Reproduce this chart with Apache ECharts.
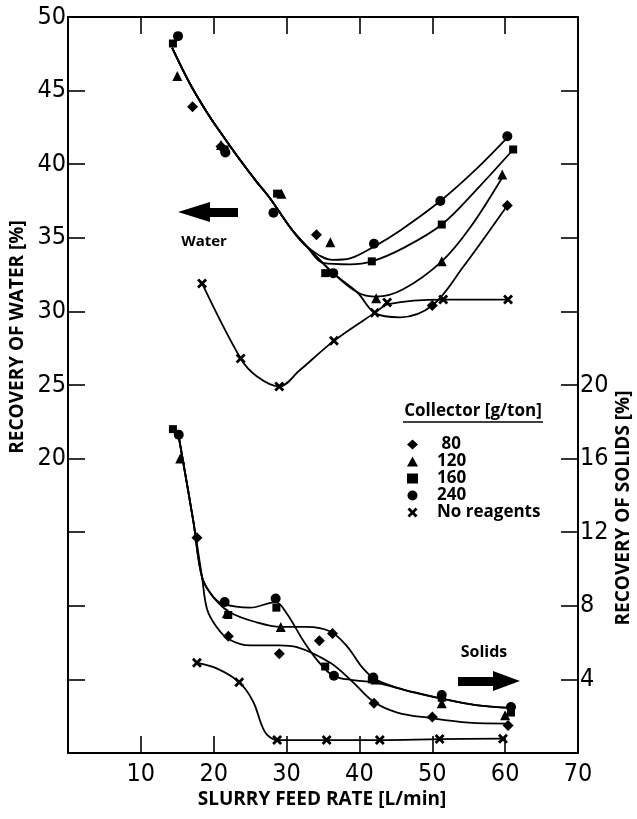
<!DOCTYPE html>
<html><head><meta charset="utf-8">
<script src="https://cdn.jsdelivr.net/npm/echarts@6/dist/echarts.min.js"></script>
<style>html,body{margin:0;padding:0;background:#fff}#c{width:637px;height:819px}</style>
</head><body><div id="c"></div>
<script>
// ---------- tick labels ----------
const xTickLabels = [10, 20, 30, 40, 50, 60, 70];
const waterTickLabels = [20, 25, 30, 35, 40, 45, 50];
const solidsTickLabels = [4, 8, 12, 16, 20];
const collectorNames = [' 80', '120', '160', '240', 'No reagents'];

// ---------- recovery of water [%] : measured points ----------
const water80  = [[17.1,43.9],[21.0,41.2],[34.1,35.2],[50.0,30.4],[60.3,37.2]];
const water120 = [[15.0,46.0],[21.0,41.3],[29.3,38.0],[36.0,34.7],[42.3,30.9],[51.3,33.4],[59.6,39.3]];
const water160 = [[14.4,48.2],[21.5,41.0],[28.7,38.0],[35.3,32.6],[41.7,33.4],[51.3,35.9],[61.1,41.0]];
const water240 = [[15.1,48.7],[21.6,40.8],[28.2,36.7],[36.4,32.6],[42.0,34.6],[51.1,37.5],[60.3,41.9]];
const waterNone = [[18.4,31.9],[23.7,26.8],[29.0,24.9],[36.5,28.0],[42.1,29.9],[43.8,30.6],[51.5,30.8],[60.4,30.8]];

// ---------- recovery of water : fitted curves ----------
const waterFitShared = [[14.3,47.9],[16.7,45.5],[19.1,43.5],[21.3,41.9],[23.6,40.3],[25.9,38.8],[27.7,37.7],[30.5,35.7],[32.8,34.4]];
const waterFitLow    = [[36.4,32.6],[39.7,31.3]];
const waterFit240Tail = [[36.4,33.5],[38.7,33.6],[42.0,34.4],[45.6,35.5],[51.1,37.5],[56.1,39.7],[60.3,41.8]];
const waterFit160Tail = [[35.0,33.3],[38.7,33.2],[41.7,33.4],[46.0,34.3],[51.3,35.9],[56.5,38.5],[61.1,41.0]];
const waterFit120Tail = [[42.3,31.0],[46.0,31.5],[51.3,33.4],[55.2,35.7],[59.6,39.1]];
const waterFit80Tail  = [[42.1,29.9],[45.6,29.6],[50.0,30.4],[54.2,33.0],[60.3,37.2]];
const waterFitNone = [[18.4,31.9],[23.7,26.8],[25.9,25.6],[29.0,24.9],[31.8,26.0],[36.5,28.0],[42.1,29.9],[44.0,30.5],[51.5,30.8],[60.4,30.8]];

// ---------- recovery of solids [%] : measured points ----------
const solids80  = [[17.7,11.7],[22.0,6.35],[29.0,5.4],[34.5,6.1],[36.3,6.5],[42.0,2.7],[50.0,1.95],[60.4,1.5]];
const solids120 = [[15.4,16.0],[21.8,7.6],[29.2,6.85],[42.2,4.0],[51.3,2.7],[60.0,2.05]];
const solids160 = [[14.4,17.6],[22.0,7.5],[28.6,7.9],[35.3,4.7],[41.7,4.0],[51.3,3.0],[60.8,2.2]];
const solids240 = [[15.2,17.3],[21.5,8.2],[28.5,8.4],[36.5,4.2],[41.9,4.1],[51.3,3.15],[60.8,2.5]];
const solidsNone = [[17.7,4.9],[23.5,3.85],[28.7,0.7],[35.5,0.7],[42.8,0.7],[51.0,0.76],[59.7,0.78]];

// ---------- recovery of solids : fitted curves ----------
const solidsFitShared = [[15.2,17.2],[17.2,12.6],[18.4,9.55]];
const solidsFitA = [[19.9,8.5],[21.3,8.1],[25.0,7.9],[28.5,8.2],[30.0,7.6],[32.3,6.1],[34.2,5.05],[36.4,4.2],[39.1,3.96],[41.9,3.85],[46.0,3.45],[51.3,2.95],[56.0,2.6],[60.8,2.45]];
const solidsFitB = [[19.9,8.5],[22.2,7.65],[25.9,7.1],[29.2,6.85],[32.8,6.85],[36.0,6.6],[38.3,5.8],[40.5,4.6],[42.4,3.96],[46.0,3.45],[51.3,2.95],[56.0,2.6],[60.8,2.45]];
const solidsFitC = [[19.1,7.8],[20.4,6.85],[22.0,6.2],[25.0,5.85],[29.0,5.85],[31.4,5.76],[36.0,4.9],[39.1,3.85],[41.9,2.8],[45.2,2.2],[49.7,1.9],[55.0,1.65],[60.4,1.6]];
const solidsFitNone = [[17.7,4.9],[20.4,4.6],[23.5,3.85],[25.4,2.8],[26.6,1.5],[27.3,1.0],[28.7,0.7],[35.5,0.7],[42.8,0.7],[51.0,0.75],[59.7,0.78]];

// ---------- drawing ----------
const INK = '#000';
const numFont = '"Liberation Sans Narrow","DejaVu Sans Condensed",sans-serif';
const boldFont = '"Open Sans","DejaVu Sans",sans-serif';
const xSymbol = 'path://M0,2L2,0L5,3L8,0L10,2L7,5L10,8L8,10L5,7L2,10L0,8L3,5Z';
const symbols = {' 80': ['diamond', 11], '120': ['triangle', 10], '160': ['rect', 8], '240': ['circle', 10], 'No reagents': [xSymbol, 10]};

function curve(name, data, axis) {
  return {name: name, type: 'line', yAxisIndex: axis, data: data, smooth: 0.35, symbol: 'none', showSymbol: false,
    silent: true, lineStyle: {color: INK, width: 1.8}, itemStyle: {color: INK}, z: 2};
}
function marks(name, data, axis) {
  return {name: name, type: 'scatter', yAxisIndex: axis, data: data, symbol: symbols[name][0],
    symbolSize: symbols[name][1], itemStyle: {color: INK, opacity: 1}, silent: true, z: 3};
}

const axisCommon = {
  type: 'value',
  axisLine: {show: true, onZero: false, lineStyle: {color: INK, width: 2}},
  axisTick: {show: true, inside: true, length: 17, lineStyle: {color: INK, width: 1.6}},
  splitLine: {show: false}
};

const option = {
  animation: false,
  backgroundColor: '#fff',
  grid: {left: 68, right: 59, top: 17, bottom: 66},
  xAxis: [
    Object.assign({}, axisCommon, {position: 'bottom', min: 0, max: 70, interval: 10,
      axisLabel: {formatter: v => xTickLabels.includes(v) ? String(v) : '', margin: 9, fontSize: 25, color: INK, fontFamily: numFont}}),
    Object.assign({}, axisCommon, {position: 'top', min: 0, max: 70, interval: 10, axisLabel: {show: false}})
  ],
  yAxis: [
    Object.assign({}, axisCommon, {position: 'left', min: 0, max: 50, interval: 5,
      axisLabel: {formatter: v => waterTickLabels.includes(v) ? String(v) : '', margin: 2, fontSize: 25, color: INK, fontFamily: numFont}}),
    Object.assign({}, axisCommon, {position: 'right', min: 0, max: 40, interval: 4,
      axisLabel: {formatter: v => solidsTickLabels.includes(v) ? String(v) : '', margin: 2, fontSize: 25, color: INK, fontFamily: numFont}})
  ],
  legend: {
    data: collectorNames, orient: 'vertical', left: 407, top: 436, itemGap: 0, itemWidth: 11, itemHeight: 10,
    selectedMode: false, padding: 0,
    textStyle: {color: INK, fontWeight: 'bold', fontSize: 17, lineHeight: 15, fontFamily: boldFont, padding: [0, 0, 0, 14]}
  },
  series: [
    curve('w240', waterFitShared.concat(waterFit240Tail), 0),
    curve('w160', waterFitShared.concat(waterFit160Tail), 0),
    curve('w120', waterFitShared.concat(waterFitLow, waterFit120Tail), 0),
    curve('w80', waterFitShared.concat(waterFitLow, waterFit80Tail), 0),
    curve('wNone', waterFitNone, 0),
    curve('sA', solidsFitShared.concat(solidsFitA), 1),
    curve('sB', solidsFitShared.concat(solidsFitB), 1),
    curve('sC', solidsFitShared.concat(solidsFitC), 1),
    curve('sNone', solidsFitNone, 1),
    marks(' 80', water80, 0), marks('120', water120, 0), marks('160', water160, 0), marks('240', water240, 0), marks('No reagents', waterNone, 0),
    marks(' 80', solids80, 1), marks('120', solids120, 1), marks('160', solids160, 1), marks('240', solids240, 1), marks('No reagents', solidsNone, 1)
  ],
  graphic: [
    {type: 'text', x: 18, y: 337, rotation: Math.PI / 2, style: {text: 'RECOVERY OF WATER [%]', fill: INK, font: 'bold 19px ' + boldFont, textAlign: 'center', textVerticalAlign: 'middle'}},
    {type: 'text', x: 624, y: 508, rotation: Math.PI / 2, style: {text: 'RECOVERY OF SOLIDS [%]', fill: INK, font: 'bold 19px ' + boldFont, textAlign: 'center', textVerticalAlign: 'middle'}},
    {type: 'text', x: 322, y: 800, style: {text: 'SLURRY FEED RATE [L/min]', fill: INK, font: 'bold 19px ' + boldFont, textAlign: 'center', textVerticalAlign: 'middle'}},
    {type: 'text', x: 204, y: 242, style: {text: 'Water', fill: INK, font: 'bold 15px ' + boldFont, textAlign: 'center', textVerticalAlign: 'middle'}},
    {type: 'text', x: 484, y: 652, style: {text: 'Solids', fill: INK, font: 'bold 16px ' + boldFont, textAlign: 'center', textVerticalAlign: 'middle'}},
    {type: 'text', x: 473, y: 411, style: {text: 'Collector [g/ton]', fill: INK, font: 'bold 17px ' + boldFont, textAlign: 'center', textVerticalAlign: 'middle'}},
    {type: 'line', shape: {x1: 403, y1: 422, x2: 543, y2: 422}, style: {stroke: INK, lineWidth: 1.5}},
    {type: 'polygon', shape: {points: [[178,212],[210,202],[210,208],[238,208],[238,217],[210,217],[210,222]]}, style: {fill: INK}},
    {type: 'polygon', shape: {points: [[520,681],[493,671],[493,677],[458,677],[458,686],[493,686],[493,691]]}, style: {fill: INK}}
  ]
};
echarts.init(document.getElementById('c')).setOption(option);
</script>
</body></html>
